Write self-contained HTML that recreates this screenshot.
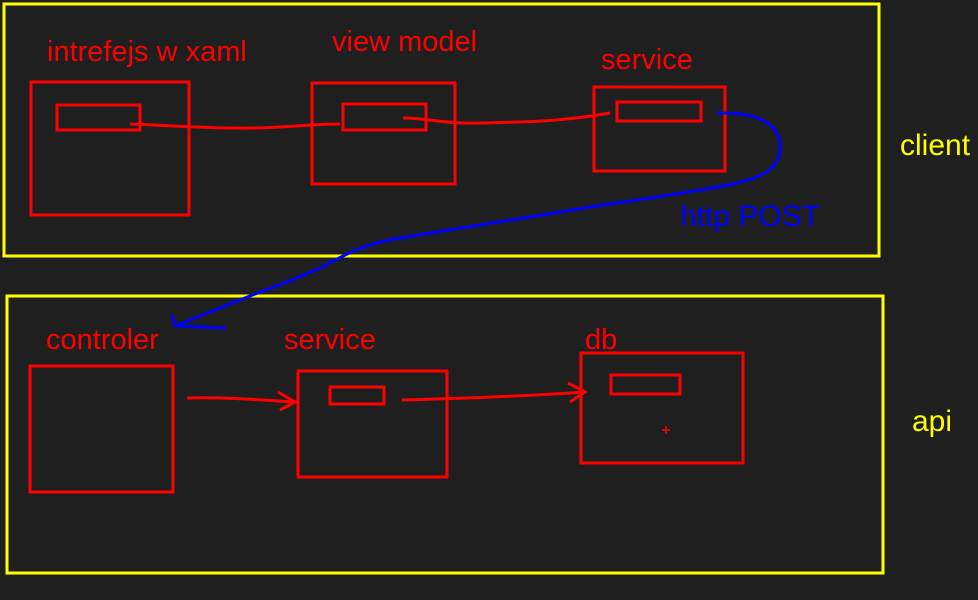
<!DOCTYPE html>
<html><head><style>
html,body{margin:0;padding:0;background:#1f1f1f;}
svg{display:block}
text{font-family:"Liberation Sans",sans-serif;font-size:29px}
</style></head><body>
<svg width="978" height="600" viewBox="0 0 978 600">
<rect width="978" height="600" fill="#1f1f1f"/>
<g fill="none" stroke="#ffff00" stroke-width="3">
<rect x="4" y="4" width="875" height="252"/>
<rect x="7" y="296" width="876" height="277"/>
</g>
<g fill="none" stroke="#ff0000" stroke-width="3">
<rect x="31" y="82" width="158" height="133"/>
<rect x="57" y="105" width="83" height="25"/>
<rect x="312" y="83" width="143" height="101"/>
<rect x="343" y="104" width="83" height="26"/>
<rect x="594" y="87" width="131" height="84"/>
<rect x="617" y="102" width="84" height="19"/>
<rect x="30" y="366" width="143" height="126"/>
<rect x="298" y="371" width="149" height="106"/>
<rect x="330" y="387" width="54" height="17"/>
<rect x="581" y="353" width="162" height="110"/>
<rect x="611" y="375" width="69" height="19"/>
<path d="M130 124 C180 126 230 130 280 127 S320 124 340 124"/>
<path d="M403 118 C430 118 440 124 480 123 S560 122 610 113"/>
<path d="M187 398 C230 397 260 400 295 402 M278 392 L295 402 L280 410"/>
<path d="M402 400 C470 398 530 396 585 392 M568 383 L585 392 L570 402"/>
<path d="M662 430 H670 M666 426 V434" stroke-width="1.5"/>
</g>
<path d="M717 113 C760 112 782 125 780 150 C778 175 750 182 700 190 C640 200 600 205 560 212 C500 222 440 232 400 238 C360 244 340 258 320 268 C290 282 250 295 220 308 C200 316 185 322 175 326 M175 326 L226 328 M175 326 L172 315" fill="none" stroke="#0000ff" stroke-width="3"/>
<g fill="#ff0000">
<text x="47" y="61">intrefejs w xaml</text>
<text x="332" y="51">view model</text>
<text x="601" y="69">service</text>
<text x="46" y="349">controler</text>
<text x="284" y="349">service</text>
<text x="585" y="349">db</text>
</g>
<text x="900" y="155" fill="#ffff00" style="font-size:30px">client</text>
<text x="912" y="431" fill="#ffff00" style="font-size:30px">api</text>
<text x="680" y="226" fill="#0000ff" style="font-size:30px">http POST</text>
</svg>
</body></html>
